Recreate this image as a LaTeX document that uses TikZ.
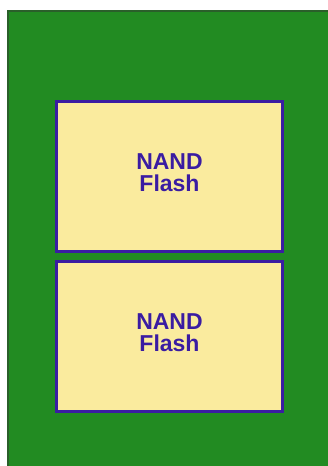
\documentclass[tikz,border=0pt]{standalone}
\usepackage{fontspec}
\setmainfont{Liberation Sans}
\definecolor{boardgreen}{HTML}{228B22}
\definecolor{boardedge}{HTML}{2A5F2A}
\definecolor{chipfill}{HTML}{FAEB9E}
\definecolor{chipline}{HTML}{3A1CA2}
\tikzset{
  chip/.style={draw=chipline, line width=3pt, fill=chipfill, minimum width=226pt, minimum height=150pt, inner sep=0pt},
  chiptext/.style={inner sep=0pt, font=\bfseries\fontsize{23}{22}\selectfont, text=chipline, align=center}
}
\begin{document}
\begin{tikzpicture}[x=1pt,y=-1pt]
\useasboundingbox (0,0) rectangle (327,466);
\fill[boardgreen] (7,10) rectangle (330,470);
\draw[boardedge, line width=1.5pt] (7.75,470) -- (7.75,10.75) -- (330,10.75);
\node[chip] (nand1) at (169.5,176.5) {};
\node[chip] (nand2) at (169.5,336.25) {};
\node[chiptext] (t1) at ([yshift=3.5pt]nand1.center) {NAND\\Flash};
\node[chiptext] (t2) at ([yshift=3.5pt]nand2.center) {NAND\\Flash};
\end{tikzpicture}
\end{document}
